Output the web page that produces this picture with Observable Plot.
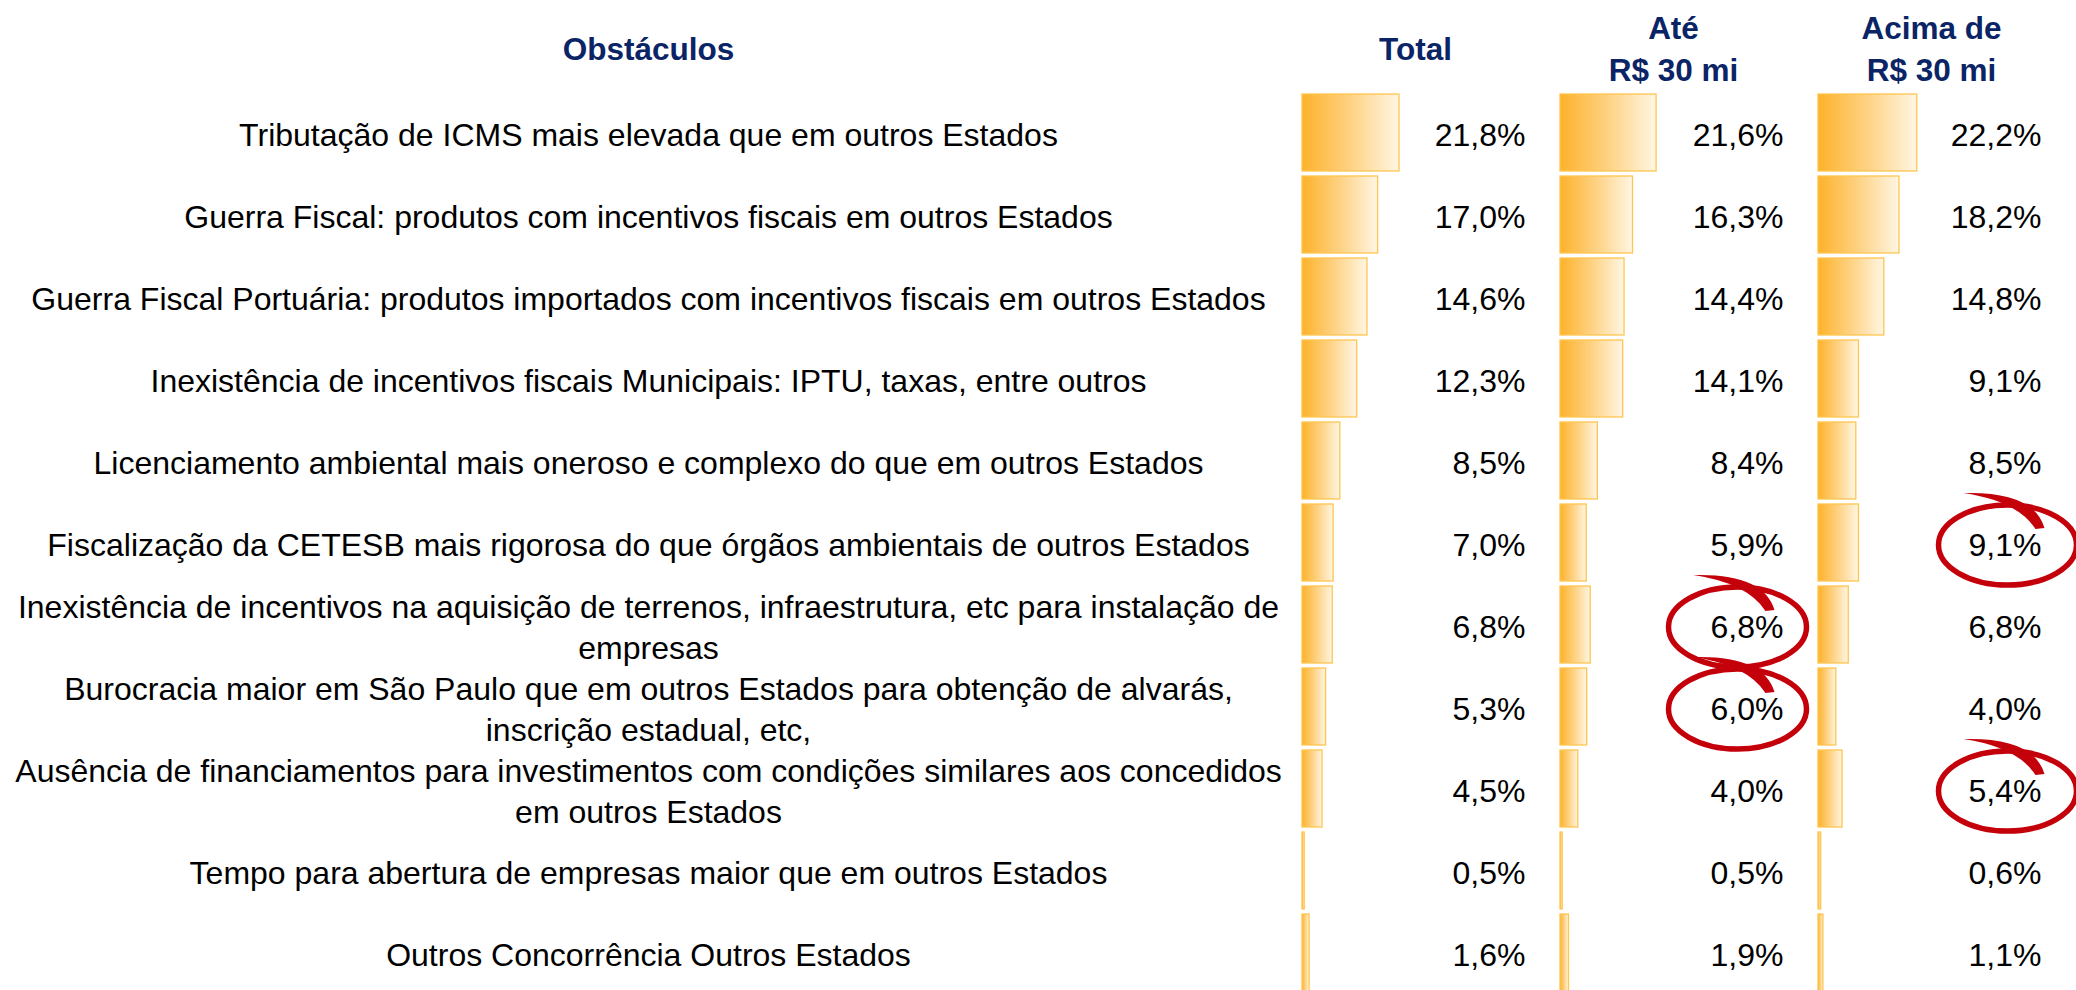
<!DOCTYPE html>
<html>
<head>
<meta charset="utf-8">
<script src="https://cdn.jsdelivr.net/npm/d3@7"></script>
<script src="https://cdn.jsdelivr.net/npm/@observablehq/plot@0.6"></script>
<style>
  html, body { margin: 0; padding: 0; background: #ffffff; overflow: hidden; }
</style>
</head>
<body>
<div id="chart"></div>
<script>
// ---- data ----
const obstacles = [
  "Tributação de ICMS mais elevada que em outros Estados",
  "Guerra Fiscal: produtos com incentivos fiscais em outros Estados",
  "Guerra Fiscal Portuária: produtos importados com incentivos fiscais em outros Estados",
  "Inexistência de incentivos fiscais Municipais: IPTU, taxas, entre outros",
  "Licenciamento ambiental mais oneroso e complexo do que em outros Estados",
  "Fiscalização da CETESB mais rigorosa do que órgãos ambientais de outros Estados",
  "Inexistência de incentivos na aquisição de terrenos, infraestrutura, etc para instalação de\nempresas",
  "Burocracia maior em São Paulo que em outros Estados para obtenção de alvarás,\ninscrição estadual, etc,",
  "Ausência de financiamentos para investimentos com condições similares aos concedidos\nem outros Estados",
  "Tempo para abertura de empresas maior que em outros Estados",
  "Outros Concorrência Outros Estados"
];
const columns = ["Total", "Até", "Acima"];
const columnHeaders = ["Total", "Até\nR$ 30 mi", "Acima de\nR$ 30 mi"];
const rowHeader = "Obstáculos";
const totalValues = [21.8, 17.0, 14.6, 12.3, 8.5, 7.0, 6.8, 5.3, 4.5, 0.5, 1.6];
const ateValues   = [21.6, 16.3, 14.4, 14.1, 8.4, 5.9, 6.8, 6.0, 4.0, 0.5, 1.9];
const acimaValues = [22.2, 18.2, 14.8, 9.1, 8.5, 9.1, 6.8, 4.0, 5.4, 0.6, 1.1];
// cells highlighted with a red hand-drawn circle
const highlighted = [
  {col: "Acima", row: 5},
  {col: "Até", row: 6},
  {col: "Até", row: 7},
  {col: "Acima", row: 8}
];

// ---- tables for the library ----
const series = [totalValues, ateValues, acimaValues];
const table = obstacles.flatMap((o, i) =>
  columns.map((c, j) => ({obstacle: o, col: c, value: series[j][i]})));
const headers = columns.map((c, j) => ({col: c, label: columnHeaders[j]}));
const marks = highlighted.map(h => ({col: h.col, obstacle: obstacles[h.row]}));
const fmt = v => v.toFixed(1).replace(".", ",") + "%";

// ---- annotation symbols ----
const RX = 69, RY = 40, K = 0.5523;
const ellipseSymbol = {
  draw(ctx) {
    ctx.moveTo(RX, 0);
    ctx.bezierCurveTo(RX, RY * K, RX * K, RY, 0, RY);
    ctx.bezierCurveTo(-RX * K, RY, -RX, RY * K, -RX, 0);
    ctx.bezierCurveTo(-RX, -RY * K, -RX * K, -RY, 0, -RY);
    ctx.bezierCurveTo(RX * K, -RY, RX, -RY * K, RX, 0);
    ctx.closePath();
  }
};
const swooshSymbol = {
  draw(ctx) {
    ctx.moveTo(-44, -52);
    ctx.quadraticCurveTo(26, -54, 37, -17);
    ctx.lineTo(28, -16);
    ctx.quadraticCurveTo(10, -44, -44, -52);
    ctx.closePath();
  }
};

const FONT = "'Liberation Sans', Arial, Helvetica, sans-serif";
const NAVY = "#0a2466";
const RED = "#c4000b";

const chart = Plot.plot({
  width: 2076,
  height: 990,
  marginLeft: 1302,
  marginRight: 0,
  marginTop: 0,
  marginBottom: 0,
  style: {fontFamily: FONT, background: "#ffffff", overflow: "visible"},
  fx: {domain: columns, padding: 0, axis: null},
  x: {domain: [0, 58], axis: null},
  y: {domain: obstacles, range: [92, 992.6], paddingInner: 0.066, paddingOuter: 0, axis: null},
  marks: [
    // bars
    Plot.barX(table, {
      fx: "col", y: "obstacle", x: "value",
      fill: "url(#barGrad)", stroke: "#ffc54f", strokeWidth: 1.3
    }),
    // value labels
    Plot.text(table, {
      fx: "col", y: "obstacle", text: d => fmt(d.value),
      frameAnchor: "left", dx: 223, dy: 3,
      textAnchor: "end", fontSize: 32, fill: "#000000"
    }),
    // row labels (left, centred)
    Plot.text(obstacles, {
      fx: () => "Total", y: d => d, text: d => d,
      frameAnchor: "left", dx: -654, dy: 0,
      textAnchor: "middle", lineAnchor: "middle", lineHeight: 1.28,
      fontSize: 32, fill: "#000000"
    }),
    // header: Obstáculos
    Plot.text([rowHeader], {
      fx: () => "Total", text: d => d,
      frameAnchor: "top-left", dx: -654, dy: 46,
      textAnchor: "middle", lineAnchor: "middle", lineHeight: 1.34,
      fontSize: 31.5, fontWeight: "bold", fill: NAVY
    }),
    // column headers
    Plot.text(headers, {
      fx: "col", text: "label",
      frameAnchor: "top-left", dx: 113, dy: 46,
      textAnchor: "middle", lineAnchor: "middle", lineHeight: 1.34,
      fontSize: 31.5, fontWeight: "bold", fill: NAVY
    }),
    // red circles
    Plot.dot(marks, {
      filter: d => d.col === "Até",
      fx: "col", y: "obstacle", frameAnchor: "left", dx: 177, dy: 2,
      symbol: ellipseSymbol, fill: "none", stroke: RED, strokeWidth: 5.5
    }),
    Plot.dot(marks, {
      filter: d => d.col === "Até",
      fx: "col", y: "obstacle", frameAnchor: "left", dx: 177, dy: 2,
      symbol: swooshSymbol, fill: RED, stroke: "none"
    }),
    Plot.dot(marks, {
      filter: d => d.col === "Acima",
      fx: "col", y: "obstacle", frameAnchor: "left", dx: 189, dy: 2,
      symbol: ellipseSymbol, fill: "none", stroke: RED, strokeWidth: 5.5
    }),
    Plot.dot(marks, {
      filter: d => d.col === "Acima",
      fx: "col", y: "obstacle", frameAnchor: "left", dx: 189, dy: 2,
      symbol: swooshSymbol, fill: RED, stroke: "none"
    })
  ]
});

// gradient used by the bars (one per bar, via objectBoundingBox)
const defs = d3.select(chart).insert("defs", ":first-child");
const grad = defs.append("linearGradient")
  .attr("id", "barGrad")
  .attr("x1", "0").attr("y1", "0").attr("x2", "1").attr("y2", "0");
grad.append("stop").attr("offset", "0%").attr("stop-color", "#fdb22a");
grad.append("stop").attr("offset", "50%").attr("stop-color", "#fed283");
grad.append("stop").attr("offset", "100%").attr("stop-color", "#fff6e3");

document.getElementById("chart").appendChild(chart);
</script>
</body>
</html>
